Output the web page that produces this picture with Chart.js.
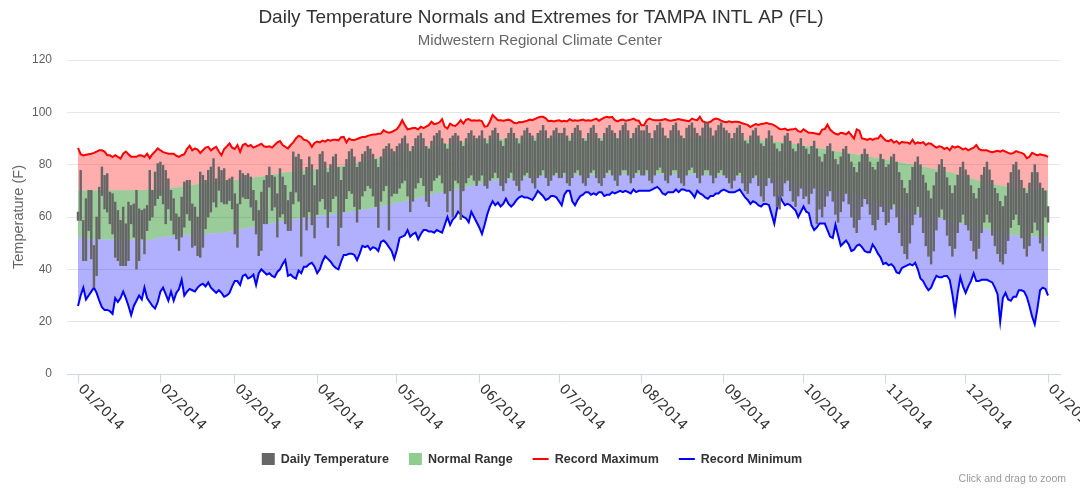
<!DOCTYPE html>
<html><head><meta charset="utf-8">
<script src="https://cdn.jsdelivr.net/npm/chart.js@4.4.1/dist/chart.umd.min.js"></script>
<style>html,body{margin:0;padding:0;background:#fff;overflow:hidden}</style>
</head><body>
<canvas id="c" width="1080" height="490" style="width:1080px;height:490px;display:block"></canvas>
<script>
const titleText = 'Daily Temperature Normals and Extremes for TAMPA INTL AP (FL)';
const subtitleText = 'Midwestern Regional Climate Center';
const yTitleText = 'Temperature (F)';
const monthTicks = [0,31,59,90,120,151,181,212,243,273,304,334,365];
const monthLabels = ['01/2014','02/2014','03/2014','04/2014','05/2014','06/2014','07/2014','08/2014','09/2014','10/2014','11/2014','12/2014','01/2015'];
const yTicks = [0,20,40,60,80,100,120];

const recordMax = [
86.4,84,83.5,83.8,84,84.2,84.5,85,85.5,85.5,
85,83.6,83.6,82.9,83.6,83,82.3,84.2,85,84,
83,83,83,83.6,83.5,83,84.2,82.5,84,85,
86.2,85.5,84.8,84.5,84.2,84.2,84.2,83.4,83,83.6,
84,86,87.2,85.5,86.2,85.8,84.5,85.5,86.5,86.8,
85.5,86.2,86.8,85,83.6,86,87,88.1,86.5,86,
87.5,84.9,87.5,88,87,87.5,86.5,87,87.5,88,
87,86.8,87,86.5,87.5,88.5,89,87.5,86.8,86.2,
87.5,88.5,90,91,90.6,89.5,89.3,88.5,86.8,88.3,
88.8,88.5,89.2,88.8,89.5,89.2,89.5,89.5,89.3,90.5,
90.6,88.5,90,89.4,89.4,89.8,90.2,90.6,90.6,91,
91.3,91.5,91.5,91.8,91.9,93.2,92.5,92.2,92.5,93,
93.6,95,97,95.1,93.5,93.7,94,94,93.5,94.5,
94,94.5,95.1,96.4,95.5,95.7,96.2,97.4,94.5,93.8,
95.7,95,94.8,95.7,97,95.7,97.2,97.4,96.8,97,
96.8,97,96.6,94.5,94.7,96.5,99,98,97,97,
96.8,97,97.2,96.8,96,95.8,96.3,96.2,96.5,96.8,
97.2,97,97.5,98,98.3,98.3,97.7,96.6,96.8,96.5,
96.8,97,96.5,96.8,96.5,97.4,96.8,97,96.8,97,
97.2,96.8,97,96.8,97.2,97.6,96.8,97.4,98,98.3,
98,98.3,97,96.5,97,97.2,96.8,97,97.2,97.6,
97,96.8,95.1,95.1,97,97.6,97.2,97,97,97,
97.2,97.4,97,96.8,97,97.2,97.4,97.2,97,96.8,
96.6,97.6,97.2,97,98.3,96.6,96.2,96,96.4,97.2,
97.6,97.4,96.8,96.4,96.2,96.6,96.2,96.4,96.4,96.2,
95.8,95.5,95.2,94.4,95,95.5,95.2,95.5,95.6,96,
95.6,95.5,95,94.4,93.6,93.5,93.8,93.2,93.4,93.5,
93.8,92.8,92.5,93.5,92.8,92.2,92.2,92,91.8,91.6,
93.4,93.6,95.3,93.4,92.5,91.8,91.5,92.2,92,91.6,
92.5,91.3,90,93.5,93,90,89.8,89.5,90,89.5,
90,90,91.3,90.2,89.2,89,89.5,88.5,89,88,
88.7,88.5,88.5,88,89.5,88,88.5,88.2,88.6,87.5,
88.2,88,87.2,86.5,87,86.8,86,86.5,85.5,87,
86.5,87,86.5,85.8,86.2,85.5,86,86.5,87.5,86,
85.5,85.5,85.5,85,84.8,85,85.3,85,85.5,85,
84.5,84.2,84.5,85.2,84.8,84.5,84,82.5,83,84.5,
84,83.5,84,83.7,83.5,83];

const recordMin = [
26,30,33,28.5,30,31.5,33,31,28,25.5,
24.5,24.5,24,23,29,27.5,29,31.5,29,26,
22.5,26,28,30,28.5,33,29,27.5,26,25,
27.5,31.5,33,30.5,28,31.5,28,31,32.5,36,
30,31.5,32.5,32,31.5,33,34,34.5,33.5,35,
33,32,31,32,31,29.5,30,31,33.5,35.5,
35.5,34,37.5,38,36.5,37,38,34,38.5,40,
39,38,38.5,37.5,37,39,40,42,43.5,37.5,
38,37,36.5,39.5,38.5,41,41,42,42.5,41,
38.5,40,43,45,44,43,41.5,40.5,40,43,
45.5,45.5,46,46,45.5,43.5,46,49,48.5,49,
47.5,48.5,48,47,50.5,51,50,48.5,47,44,
47.5,52,52.5,53,55,52.5,53.5,54,51.5,53.5,
55,55,54.5,54.5,54,55,54.5,54,57,60,
57,59,60,62,61,60,59.5,58,62,60,
58,56,53.5,57,61,64,66,64.5,65.5,64,
65,67,65,64,65,66.5,67.5,68,67.5,67.5,
67,66.5,68,70,69,68,66.5,67,68,68,
67.5,66,64.5,68.5,70,70,66,64.5,66.5,68,
68.5,69.5,69.5,68.5,69,68.5,69.5,69.5,68,68.5,
68.5,69.5,69,69.5,70,69.5,70,69.5,69,70.5,
69.5,70,70,70,70,70,70.5,71,71.5,70.5,
69,68.5,69.5,69.5,69.5,70.5,69.5,70.5,70.5,70,
70,69,67.5,70,69,68.5,67.5,67,68,68,
69,69,70,70.5,70,69.5,69.5,69.5,70,70.5,
69,67.5,66.5,65,66,65.5,64.5,64,65,65,
64.5,61,57.5,63,68,66,64.5,65,64.5,63.5,
62.5,60,62,64,62,61.5,57,55,56,57.5,
57.5,57.5,55,52.5,52,57,53,49,50,51,
49.5,47,47.5,49,49.5,48.5,47,46.5,46.5,49.5,
48,46,44.5,42,42.5,41.5,42,41,38.8,38.5,
40.5,41,41.5,42,41.5,42.5,40,36.5,35.5,33.5,
32,33,35.5,37.5,37,37,37.5,37.5,36,30.5,
23.5,31,37,33.5,31,33.5,35.5,38.5,35.5,35.5,
36,36,36,35.5,35,33,30.5,20,29,31,
28.5,28,29.5,29.5,32,32,31.5,29.5,26,22,
19,25,32,33,32.5,30];

const normalDays = [0,5,27,31,37,46,55,62,67,72,77,84,97,109,122,134,145,155,170,175,200,230,255,268,280,291,303,316,328,341,353,365];
const normalHigh = [70.2,70.2,70.3,71,71.4,72.8,73.6,74.5,75.3,76,77,77.8,79.1,81.7,84.9,87.4,88.7,89.8,90.2,90.2,90.3,90.2,89.6,88.3,86.2,84.3,82.2,79.7,77.2,73.4,70.8,70.2];
const normalLow = [52.3,51.5,51.2,52.3,52.8,53.5,54,55.5,56.5,57.5,58.5,59.6,61.2,63.1,65.7,68.9,71.2,73.8,75.3,75.9,76.3,76.3,75.3,73.4,70.8,68.5,65,61.8,58.7,55.5,52.9,52.3];

const dailyHigh = [
61.9,77.8,58.7,67,70.2,70.2,49.1,60,71.4,79.1,
75.9,76.6,69.5,68.9,65.7,62.5,58.7,63.8,57.4,65.7,
64.4,65,70.2,63.1,62.5,63.1,64.4,77.8,70.2,77.2,
80.4,81,79.7,77.8,74.6,70.2,67,61.2,60,67.6,
73.4,74,74,65,63.8,60,77.2,75.9,74,77.8,
79.1,82.3,74.6,79.1,77.8,78.5,74,74.6,75.3,68.9,
65,77.8,76.6,75.9,76.6,75.3,70.2,66.3,62.5,69.5,
74,75.9,79.1,75.9,75.3,68.9,78.5,75.3,72.1,66.3,
69.5,84.9,82.9,
84,82,76,79,83,80,72,78,84,85,81,77,80,83,84,79,74,79,82,85,86,83,79,81,84,85,87,86,84,82,79,83,86,87,88,86,85,
87,88,90,91,88,85,87,90,91,92,90,87,86,89,91,92,93,90,88,86,90,91,92,91,89,87,90,92,93,91,90,
91,93,90,88,91,93,94,92,89,87,90,92,94,92,90,88,91,93,94,92,91,89,92,93,95,93,90,91,93,94,92,
92,94,91,89,92,94,95,93,90,89,92,94,95,92,90,89,92,94,95,93,92,90,93,95,96,93,90,92,94,95,93,
93,95,92,90,93,95,96,94,91,90,93,95,96,93,91,90,94,95,96,94,92,91,94,96,96,94,91,93,95,96,94,
93,92,90,92,94,95,92,89,88,91,93,94,91,88,87,90,93,91,88,86,85,88,91,92,89,86,85,88,90,87,
86,84,87,89,86,83,81,84,87,88,85,82,80,83,86,87,84,81,79,77,81,84,86,84,81,79,78,81,84,82,79,
80,83,84,81,77,74,71,69,74,79,81,83,80,76,73,70,67,72,77,80,82,79,75,72,69,72,76,79,81,78,
76,72,69,67,71,76,79,81,78,74,71,69,66,64,68,73,77,80,81,78,74,71,69,73,77,80,77,73,71,70,
64];
const dailyLow = [
58.7,58.7,43.3,43.3,54.8,44,33.1,37.6,51.6,68.2,
63.1,61.9,57.4,53.5,44.6,43.3,41.4,41.4,41.4,43.3,
57.4,52.3,40.1,43.3,51.6,45.9,54.8,58.7,60,64.4,
67,68.2,65,57.4,63.1,58.7,53.5,51.6,47.2,52.3,
56.1,61.2,58.7,48.4,49.1,45.2,44.6,48.4,55.5,60,
61.9,65.7,63.8,70.2,65.7,65,65,66.3,63.1,53.5,
48.4,65,67.6,67,67,63.8,58.7,53.5,45.2,47.2,
57.4,57.4,71.4,62.5,63.8,52.3,60,61.2,57.4,54.8,
54.8,65,69.5,
66,45,60,55,62,57,52,61,66,67,63,56,62,67,68,49,56,62,67,70,69,64,58,63,68,70,72,71,68,64,56,66,70,72,55,68,69,
69,71,73,74,68,62,66,71,73,75,72,66,64,70,74,75,76,73,69,62,70,60,74,73,59,70,73,75,76,74,72,
74,76,72,71,74,75,77,75,72,70,73,75,77,74,72,70,74,76,77,75,73,71,75,76,78,75,72,74,76,77,75,
75,77,73,72,75,77,78,76,73,72,75,77,78,75,73,72,75,77,78,76,74,72,76,78,78,76,73,75,77,78,76,
76,78,74,73,76,78,79,77,74,73,76,78,78,75,73,72,76,78,79,77,75,73,76,78,78,76,73,75,77,78,76,
75,73,71,74,76,77,73,70,69,73,75,76,72,68,66,72,75,73,68,64,63,68,73,74,70,66,64,68,71,67,
68,65,69,71,57.5,63,60,64,68,70,66,61,58,62,66,69,65,60,56,54,59,64,67,65,61,57,55,59,64,62,57,
58,63,65,60,54,49,46,44,50,57,61,64,60,54,49,45,42,47,55,60,63,59,53,49,45,48,54,58,61,57,
55,51,47,44,48,54,58,61,58,53,49,46,43,42,46,51,56,59,61,57,52,48,45,49,54,58,55,50,47,60,
58];

const seriesNames = ['Daily Temperature','Normal Range','Record Maximum','Record Minimum'];
const FONT = '"Liberation Sans", Arial, sans-serif';

const decorations = {
  id: 'decorations',
  afterDraw(chart) {
    const ctx = chart.ctx, xs = chart.scales.x, area = chart.chartArea;
    ctx.save();
    ctx.textAlign = 'center'; ctx.textBaseline = 'alphabetic';
    ctx.fillStyle = '#333333'; ctx.font = '19px ' + FONT;
    ctx.fillText(titleText, 541, 23);
    ctx.fillStyle = '#666666'; ctx.font = '15px ' + FONT;
    ctx.fillText(subtitleText, 540, 45);
    ctx.save();
    ctx.translate(19, (area.top + area.bottom) / 2);
    ctx.rotate(-Math.PI / 2);
    ctx.textBaseline = 'middle'; ctx.fillStyle = '#666666'; ctx.font = '14.5px ' + FONT;
    ctx.fillText(yTitleText, 0, 0);
    ctx.restore();
    ctx.font = '14px "DejaVu Sans", sans-serif'; ctx.fillStyle = '#333333';
    ctx.textAlign = 'left'; ctx.textBaseline = 'middle';
    monthTicks.forEach((v, i) => {
      const px = xs.getPixelForValue(v);
      ctx.save();
      ctx.translate(px + 2, area.bottom + 13);
      ctx.rotate(Math.PI / 4);
      ctx.fillText(monthLabels[i], 0, 0);
      ctx.restore();
    });
    ctx.font = 'bold 12.5px ' + FONT;
    const items = [
      {t: seriesNames[0], kind: 'sq', c: '#666666'},
      {t: seriesNames[1], kind: 'sq', c: 'rgb(144,204,144)'},
      {t: seriesNames[2], kind: 'ln', c: '#ff0000'},
      {t: seriesNames[3], kind: 'ln', c: '#0000ff'}
    ];
    let total = 0;
    items.forEach(it => { it.sw = it.kind === 'sq' ? 13 : 16; it.w = it.sw + 6 + ctx.measureText(it.t).width; total += it.w; });
    total += 20 * (items.length - 1);
    let x = 532 - total / 2;
    const ly = 459;
    ctx.textAlign = 'left'; ctx.textBaseline = 'middle';
    items.forEach(it => {
      if (it.kind === 'sq') { ctx.fillStyle = it.c; ctx.fillRect(x, ly - 6, 13, 12); }
      else { ctx.strokeStyle = it.c; ctx.lineWidth = 2; ctx.beginPath(); ctx.moveTo(x, ly); ctx.lineTo(x + 16, ly); ctx.stroke(); }
      ctx.fillStyle = '#333333';
      ctx.fillText(it.t, x + it.sw + 6, ly + 0.5);
      x += it.w + 20;
    });
    ctx.font = '10.5px ' + FONT; ctx.fillStyle = '#999999'; ctx.textAlign = 'right';
    ctx.fillText('Click and drag to zoom', 1066, 479);
    ctx.restore();
  }
};

const days = recordMax.map((_, i) => i);
const chart = new Chart(document.getElementById('c'), {
  type: 'bar',
  data: {
    datasets: [
      { type: 'bar', label: seriesNames[0], data: days.map(i => ({x: i, y: [dailyLow[i], dailyHigh[i]]})),
        backgroundColor: '#666666', borderWidth: 0, barThickness: 1.8, order: 0 },
      { type: 'line', label: seriesNames[2], data: days.map(i => ({x: i, y: recordMax[i]})),
        borderColor: '#ff0000', borderWidth: 2, pointRadius: 0, tension: 0,
        backgroundColor: 'rgba(255,0,0,0.32)', fill: 3, order: 1 },
      { type: 'line', label: seriesNames[3], data: days.map(i => ({x: i, y: recordMin[i]})),
        borderColor: '#0000ff', borderWidth: 2, pointRadius: 0, tension: 0,
        backgroundColor: 'rgba(0,0,255,0.31)', fill: 4, order: 1 },
      { type: 'line', label: 'Normal High', data: normalDays.map((d, i) => ({x: d, y: normalHigh[i]})),
        borderColor: 'rgba(0,0,0,0)', borderWidth: 0, pointRadius: 0, tension: 0,
        backgroundColor: 'rgba(0,128,0,0.4)', fill: 4, order: 2 },
      { type: 'line', label: 'Normal Low', data: normalDays.map((d, i) => ({x: d, y: normalLow[i]})),
        borderColor: 'rgba(0,0,0,0)', borderWidth: 0, pointRadius: 0, tension: 0, fill: false, order: 2 }
    ]
  },
  options: {
    responsive: false, animation: false, devicePixelRatio: 1, events: [],
    layout: { padding: { left: 0, right: 20, top: 60, bottom: 106 } },
    plugins: { legend: { display: false }, title: { display: false }, tooltip: { enabled: false } },
    scales: {
      x: {
        type: 'linear', min: -4.14, max: 369.5, offset: false,
        afterBuildTicks: s => { s.ticks = monthTicks.map(v => ({value: v})); },
        afterFit: s => { s.height = 10; },
        ticks: { display: false },
        grid: { display: true, drawOnChartArea: false, drawTicks: true, tickLength: 9, color: '#ccd6eb', offset: false },
        border: { display: true, color: '#ccd6eb', width: 1 }
      },
      y: {
        type: 'linear', min: 0, max: 120,
        afterBuildTicks: s => { s.ticks = yTicks.map(v => ({value: v})); },
        afterFit: s => { s.width = 67; },
        ticks: { padding: 15, color: '#606060', font: { family: FONT, size: 12 } },
        grid: { drawTicks: false, color: c => (c.tick && c.tick.value === 0) ? 'rgba(0,0,0,0)' : '#e6e6e6' },
        border: { display: false }
      }
    }
  },
  plugins: [decorations]
});
</script>
</body></html>
